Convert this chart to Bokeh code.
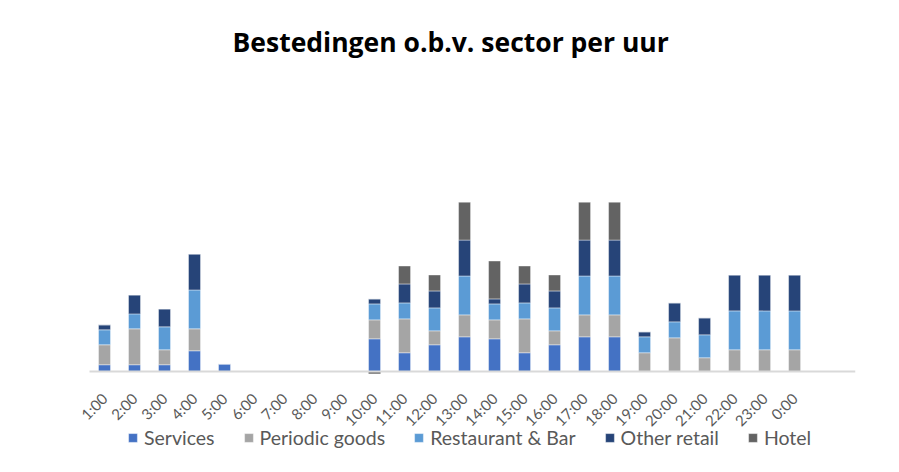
import math
from bokeh.plotting import figure
from bokeh.models import Range1d, FixedTicker, Legend, LegendItem, ColumnDataSource
from bokeh.embed import file_html
from bokeh.resources import INLINE

hours = ["1:00", "2:00", "3:00", "4:00", "5:00", "6:00", "7:00", "8:00", "9:00",
         "10:00", "11:00", "12:00", "13:00", "14:00", "15:00", "16:00", "17:00",
         "18:00", "19:00", "20:00", "21:00", "22:00", "23:00", "0:00"]
services     = [7, 7, 7, 21, 8, 0, 0, 0, 0, 33, 19, 27, 35, 33, 19, 27, 35, 35, 0, 0, 0, 0, 0, 0]
periodic     = [20, 36, 15, 22, 0, 0, 0, 0, 0, 19, 34, 14, 22, 19, 34, 14, 22, 22, 19, 34, 14, 22, 22, 22]
restaurant   = [15, 15, 23, 39, 0, 0, 0, 0, 0, 16, 16, 23, 39, 16, 16, 23, 39, 39, 16, 16, 23, 39, 39, 39]
other_retail = [5, 19, 18, 36, 0, 0, 0, 0, 0, 5, 19, 17, 36, 5, 19, 17, 36, 36, 5, 19, 17, 36, 36, 36]
hotel        = [0, 0, 0, 0, 0, 0, 0, 0, 0, -2, 18, 16, 38, 38, 18, 16, 38, 38, 0, 0, 0, 0, 0, 0]

series_names = ["Services", "Periodic goods", "Restaurant & Bar", "Other retail", "Hotel"]
colors = ["#4472C4", "#A5A5A5", "#5B9BD5", "#264478", "#636363"]

positions = list(range(1, len(hours) + 1))
src = ColumnDataSource(dict(
    x=positions,
    s0=services,
    s1=periodic,
    s2=restaurant,
    s3=other_retail,
    s4=[max(v, 0) for v in hotel],
    hneg=[min(v, 0) for v in hotel],
))

W, H = 883, 456
p = figure(width=W, height=H, output_backend="svg", toolbar_location=None,
           x_range=Range1d(-0.4667, 26.03), y_range=Range1d(-85, 291),
           min_border_left=60, min_border_right=28, min_border_top=80,
           min_border_bottom=0)

rs = p.vbar_stack(["s0", "s1", "s2", "s3", "s4"], x="x", width=0.4, color=colors,
                  source=src, line_color="white", line_width=0.8, line_alpha=0.5)
p.vbar(x="x", top=0, bottom="hneg", width=0.4, color=colors[4], source=src,
       line_color=None)

p.title.text = "Bestedingen o.b.v. sector per uur"
p.title.align = "left"
p.title.offset = 172
p.title.standoff = 43
p.title.text_font = "Open Sans"
p.title.text_font_style = "bold"
p.title.text_font_size = "26.5px"
p.title.text_color = "#000000"

p.yaxis.visible = False
p.xgrid.visible = False
p.ygrid.visible = False
p.outline_line_color = None

ax = p.xaxis[0]
ax.fixed_location = 0
ax.bounds = (0.5, 26.03)
ax.ticker = FixedTicker(ticks=positions)
ax.major_label_overrides = {pos: h for pos, h in zip(positions, hours)}
ax.major_label_orientation = math.pi / 4
ax.major_label_text_font = "Lato"
ax.major_label_text_font_size = "15px"
ax.major_label_text_color = "#595959"
ax.major_label_standoff = 18
ax.major_tick_line_color = None
ax.minor_tick_line_color = None
ax.axis_line_color = "#D9D9D9"
ax.axis_line_width = 2

legend = Legend(items=[LegendItem(label=n, renderers=[r]) for n, r in zip(series_names, rs)],
                location=(67, 7), orientation="horizontal",
                glyph_width=11, glyph_height=11, label_standoff=6, spacing=28,
                padding=0, margin=0, border_line_color=None, background_fill_alpha=0,
                label_text_font="Lato", label_text_font_size="19.5px",
                label_text_color="#595959")
p.add_layout(legend, "center")

open("out.html", "w").write(file_html(p, INLINE))
